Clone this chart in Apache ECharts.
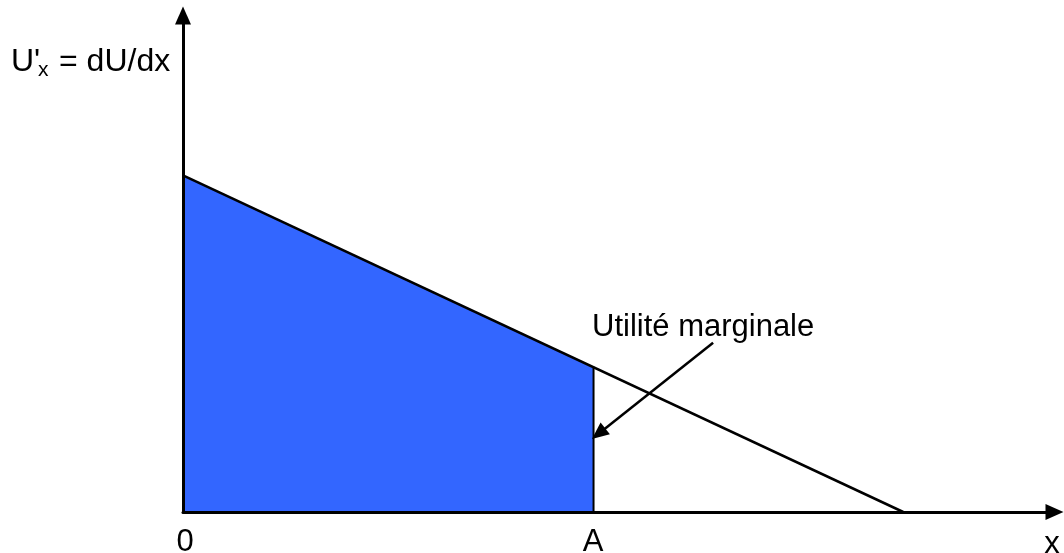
<!DOCTYPE html>
<html>
<head>
<meta charset="utf-8">
<script src="https://cdn.jsdelivr.net/npm/echarts@6/dist/echarts.min.js"></script>
<style>
  html, body { margin: 0; padding: 0; background: #fff; }
  #chart { width: 1064px; height: 553px; }
</style>
</head>
<body>
<div id="chart"></div>
<script>
    // courbe d'utilité marginale (droite décroissante)
    var curveX = [0, 10];
    var curveY = [8, 0];
    // quantité A et utilité marginale en A
    var pointA = 5.7;
    var heightA = 3.45;
    // flèche d'annotation (départ, pointe)
    var arrowFrom = [7.36, 4.02];
    var arrowTo = [5.77, 1.86];
    var xMax = 12.1;
    var yMax = 11.8;

    var font = 'Liberation Sans, Arial, sans-serif';
    var myChart = echarts.init(document.getElementById('chart'));

    var curve = curveX.map(function (x, i) { return [x, curveY[i]]; });

    var option = {
        animation: false,
        grid: { left: 183, right: 9.5, top: 15.5, bottom: 41 },
        xAxis: {
            type: 'value', min: 0, max: xMax, z: 10,
            axisLine: { lineStyle: { color: '#000', width: 3 }, symbol: ['none', 'triangle'], symbolSize: [16, 18] },
            axisTick: { show: false }, axisLabel: { show: false }, splitLine: { show: false }
        },
        yAxis: {
            type: 'value', min: 0, max: yMax, z: 10,
            axisLine: { onZero: false, lineStyle: { color: '#000', width: 3 }, symbol: ['none', 'triangle'], symbolSize: [16, 18] },
            axisTick: { show: false }, axisLabel: { show: false }, splitLine: { show: false }
        },
        series: [
            {
                // surface bleue sous la courbe jusqu'à A
                type: 'line',
                data: [[0, curveY[0]], [pointA, heightA]],
                showSymbol: false,
                lineStyle: { width: 0 },
                areaStyle: { color: '#3366FF', opacity: 1 },
                z: 1
            },
            {
                type: 'line',
                data: curve,
                showSymbol: false,
                lineStyle: { color: '#000', width: 2.5 },
                z: 3,
                markLine: {
                    silent: true,
                    symbol: ['none', 'triangle'],
                    symbolSize: [15, 17],
                    label: { show: false },
                    lineStyle: { color: '#000', width: 2.5, type: 'solid' },
                    data: [[{ coord: arrowFrom }, { coord: arrowTo }]]
                }
            },
            {
                type: 'line',
                data: [[pointA, 0], [pointA, heightA]],
                showSymbol: false,
                lineStyle: { color: '#000', width: 2 },
                z: 3
            }
        ],
        graphic: [
            { type: 'text', left: 11, top: 46, style: { text: "U'", font: '32px ' + font, fill: '#000' } },
            { type: 'text', left: 38, top: 60, style: { text: 'x', font: '21px ' + font, fill: '#000' } },
            { type: 'text', left: 59, top: 46, style: { text: '= dU/dx', font: '32px ' + font, fill: '#000' } },
            { type: 'text', x: 185, y: 542, style: { text: '0', font: '31px ' + font, fill: '#000', align: 'center', verticalAlign: 'middle' } },
            { type: 'text', x: 593, y: 542, style: { text: 'A', font: '31px ' + font, fill: '#000', align: 'center', verticalAlign: 'middle' } },
            { type: 'text', x: 1052, y: 544, style: { text: 'x', font: '31px ' + font, fill: '#000', align: 'center', verticalAlign: 'middle' } },
            { type: 'text', x: 592, y: 327, style: { text: 'Utilité marginale', font: '31px ' + font, fill: '#000', align: 'left', verticalAlign: 'middle' } }
        ]
    };

    myChart.setOption(option);
</script>
</body>
</html>
